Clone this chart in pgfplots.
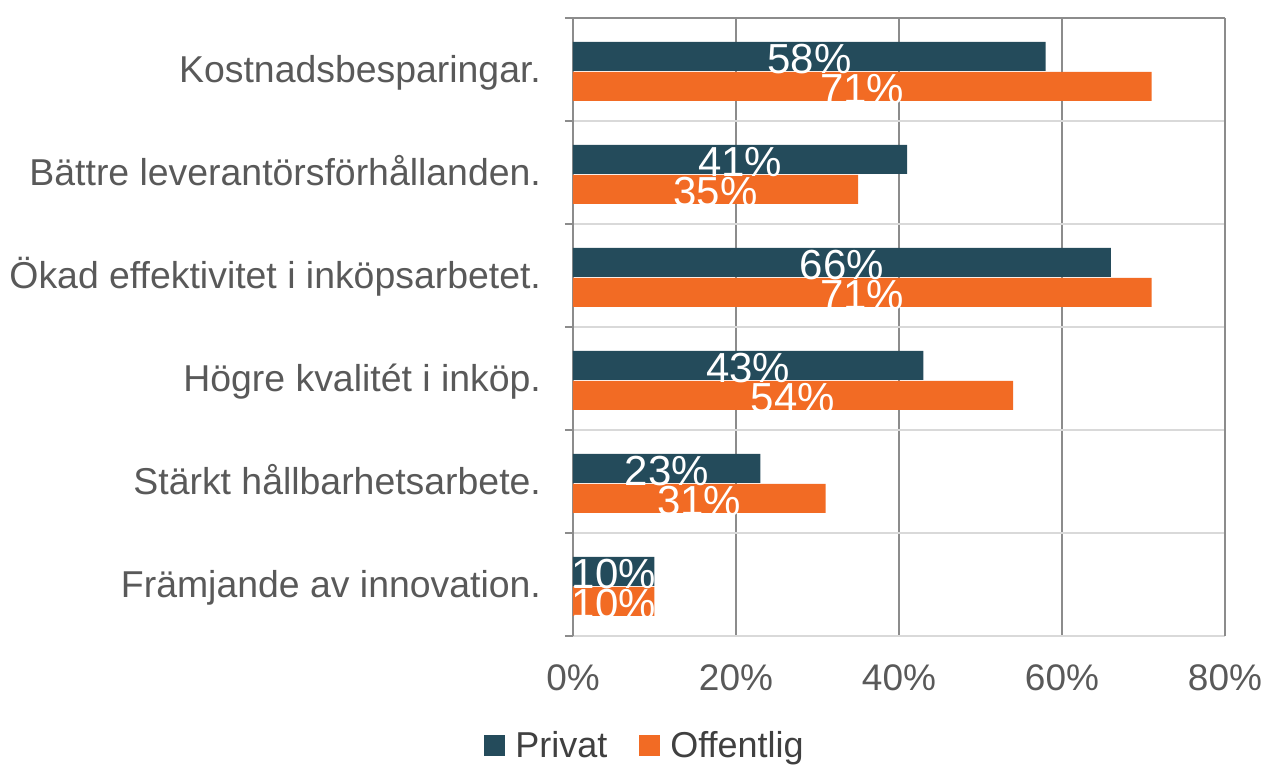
\documentclass[border=0pt]{standalone}
\usepackage{pgfplots}
\usepackage{pgfplotstable}
\pgfplotsset{compat=1.18}
\usepackage{fontspec}
\setmainfont{Liberation Sans}

\definecolor{privat}{HTML}{244B5B}
\definecolor{offentlig}{HTML}{F26B24}
\definecolor{labelgray}{HTML}{595959}
\definecolor{gridgray}{HTML}{8C8C8C}
\definecolor{sepgray}{HTML}{D9D9D9}

% pos: 5 = top category
\pgfplotstableread{
pos privat offentlig
5 58 71
4 41 35
3 66 71
2 43 54
1 23 31
0 10 10
}\data

\begin{document}
\begin{tikzpicture}
\begin{axis}[
    scale only axis,
    width=326pt, height=309pt,
    xmin=0, xmax=80,
    ymin=-0.5, ymax=5.5,
    xtick={0,20,...,80},
    xticklabel={\pgfmathprintnumber{\tick}\%},
    ytick={0,...,5},
    yticklabels={Främjande av innovation., Stärkt hållbarhetsarbete.,
        Högre kvalitét i inköp., Ökad effektivitet i inköpsarbetet.,
        Bättre leverantörsförhållanden., Kostnadsbesparingar.},
    minor ytick={-0.5,0.5,...,5.5},
    major tick length=0pt,
    minor tick length=4pt,
    tick align=outside,
    tick pos=left,
    minor tick style={gridgray, line width=1pt},
    xmajorgrids,
    yminorgrids,
    major grid style={gridgray, line width=1pt},
    minor grid style={sepgray, line width=1pt},
    separate axis lines,
    x axis line style={draw=none},
    y axis line style={gridgray, line width=1pt},
    xticklabel style={font=\fontsize{18.5}{20}\selectfont, text=labelgray,
        text height=0.716em, text depth=0pt, yshift=-16.5pt},
    yticklabel style={font=\fontsize{18.7}{20}\selectfont, text=labelgray,
        text height=0.716em, text depth=0pt, xshift=-12.5pt, yshift=-3pt},
    /pgf/number format/assume math mode=true,
    xbar,
    bar width=14.5pt,
    legend columns=2,
    legend style={draw=none, at={(0.112,-0.178)}, anchor=center,
        font=\fontsize{18}{20}\selectfont, text=black!75,
        /tikz/every odd column/.append style={column sep=3pt},
        /tikz/every even column/.append style={column sep=14pt}},
    legend image code/.code={\fill[#1] (0pt,-5.25pt) rectangle (10.5pt,5.25pt);},
    after end axis/.code={\draw[gridgray, line width=1pt] (rel axis cs:0,1) -- (rel axis cs:1,1);},
]
\addplot[fill=privat, draw=none, bar shift=6.5pt] table[x=privat, y=pos] {\data};
\addplot[fill=offentlig, draw=none, bar shift=-8.5pt] table[x=offentlig, y=pos] {\data};
\legend{Privat, Offentlig}

% value labels, centred on each bar
\addplot[draw=none, fill=none, bar shift=6.5pt,
    point meta=\thisrow{privat},
    nodes near coords={\pgfmathprintnumber{\pgfplotspointmeta}\%},
    nodes near coords align=center,
    nodes near coords style={anchor=center, text=white, inner sep=0pt, yshift=-1.5pt,
        font=\fontsize{21}{21}\selectfont}]
    table[x expr=\thisrow{privat}/2, y=pos] {\data};
\addplot[draw=none, fill=none, bar shift=-8.5pt,
    point meta=\thisrow{offentlig},
    nodes near coords={\pgfmathprintnumber{\pgfplotspointmeta}\%},
    nodes near coords align=center,
    nodes near coords style={anchor=center, text=white, inner sep=0pt, yshift=-1.5pt,
        font=\fontsize{21}{21}\selectfont}]
    table[x expr=\thisrow{offentlig}/2, y=pos] {\data};
\end{axis}
\pgfresetboundingbox
\path[use as bounding box] ([shift={(-286.5pt,-64.5pt)}]current axis.south west)
    rectangle ([shift={(346.5pt,318pt)}]current axis.south west);
\end{tikzpicture}
\end{document}
